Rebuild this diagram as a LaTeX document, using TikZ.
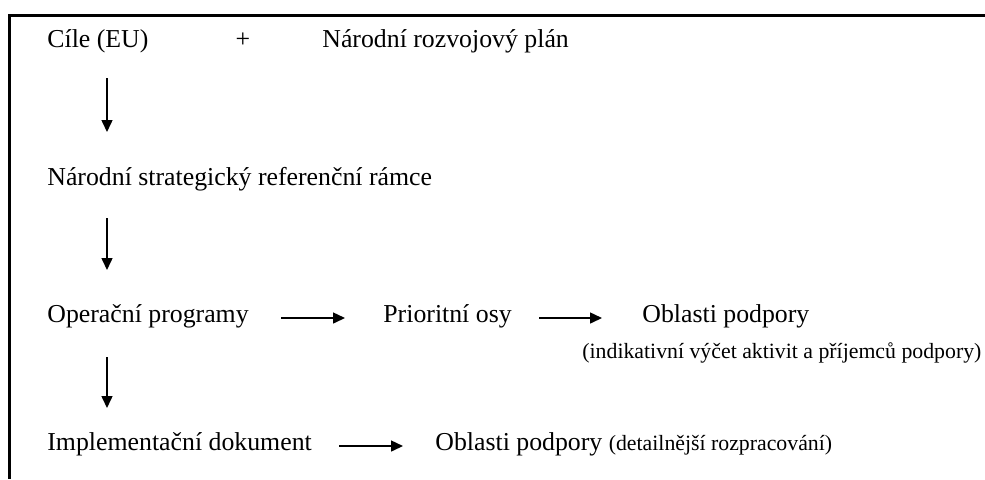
\documentclass[tikz,border=0pt]{standalone}
\usepackage{fontspec}
\setmainfont{Liberation Serif}
\usetikzlibrary{arrows.meta,positioning,calc}

\begin{document}
\begin{tikzpicture}
  [x=0.5pt,y=-0.5pt,line cap=butt,
  % Styles
  frame line/.style={line width=1.5pt},
  arr/.style={line width=0.75pt,-{Triangle[length=6pt,width=5.5pt]}},
  item/.style={anchor=base west,inner sep=0pt,font=\fontsize{12.9}{15}\selectfont},
  note/.style={anchor=base west,inner sep=0pt,font=\fontsize{10.9}{12}\selectfont}]
  \useasboundingbox (0,0) rectangle (985,479);
  % Frame
  \draw[frame line] (985,15.5) -- (9.5,15.5) -- (9.5,479);
  % The graphic
  \node[item] (cile) at (47,47) {Cíle (EU)};
  \node[item,anchor=base] (plus) at (243,47) {+};
  \node[item] (nrp) at (322,47) {Národní rozvojový plán};
  \node[item] (nsrr) at (47,185) {Národní strategický referenční rámce};
  \node[item] (opr) at (47,322) {Operační programy};
  \node[item] (pri) at (383,322) {Prioritní osy};
  \node[item] (obl) at (642,322) {Oblasti podpory};
  \node[note] (ind) at (582,358) {(indikativní výčet aktivit a příjemců podpory)};
  \node[item] (impl) at (47,450) {Implementační dokument};
  \node[item] (obld) at (435,450) {Oblasti podpory {\fontsize{10.9}{12}\selectfont(detailnější rozpracování)}};
  % Arrows down
  \draw[arr] ([xshift=30pt,yshift=-15.5pt]cile.base west) -- ([xshift=30pt,yshift=26.5pt]nsrr.base west);
  \draw[arr] ([xshift=30pt,yshift=-16.5pt]nsrr.base west) -- ([xshift=30pt,yshift=26pt]opr.base west);
  \draw[arr] ([xshift=30pt,yshift=-17.5pt]opr.base west) -- ([xshift=30pt,yshift=21pt]impl.base west);
  % Arrows right
  \draw[arr,shorten <=16pt,shorten >=19pt] ([yshift=2pt]opr.base east) -- ([yshift=2pt]pri.base west);
  \draw[arr,shorten <=13.5pt,shorten >=20pt] ([yshift=2pt]pri.base east) -- ([yshift=2pt]obl.base west);
  \draw[arr,shorten <=13.5pt,shorten >=16pt] ([yshift=2pt]impl.base east) -- ([yshift=2pt]obld.base west);
\end{tikzpicture}
\end{document}
